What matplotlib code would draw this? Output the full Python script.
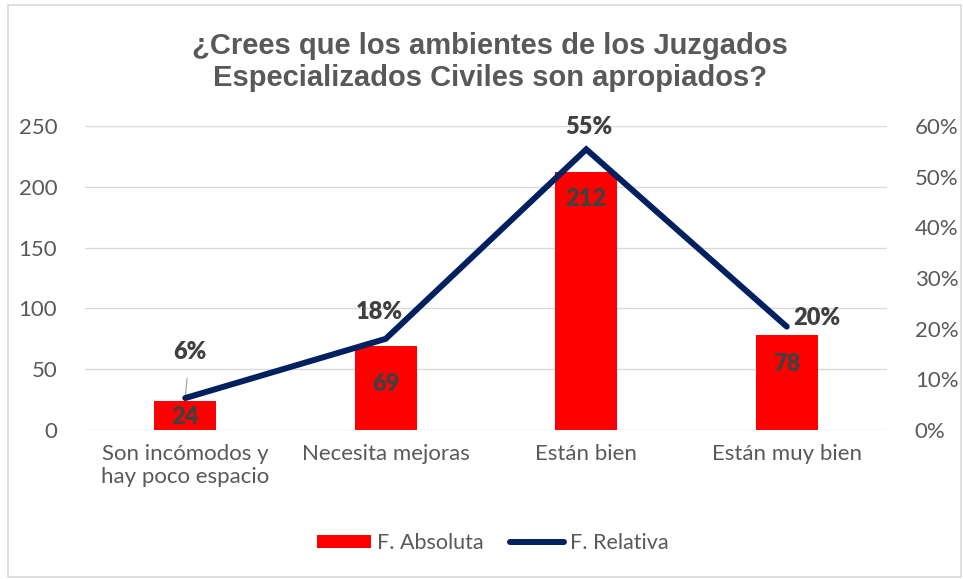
import matplotlib.pyplot as plt
from matplotlib.patches import Rectangle
from matplotlib.ticker import FuncFormatter, MultipleLocator

# data
categories = ['Son incómodos y\nhay poco espacio', 'Necesita mejoras', 'Están bien', 'Están muy bien']
absoluta = [24, 69, 212, 78]
relativa = [0.063, 0.180, 0.554, 0.204]

title = '¿Crees que los ambientes de los Juzgados\nEspecializados Civiles son apropiados?'

# label offsets in points (style, not data)
bar_label_drop = [12, 27, 19, 21]
line_label_offsets = [(3, 33), (-5, 19), (2, 16), (22, 6.5)]

grey_txt = '#595959'
dark_txt = '#404040'
navy = '#002060'

fig = plt.figure(figsize=(9.63, 5.79), dpi=100)
fig.patches.append(Rectangle((8 / 963, 2 / 579), 953 / 963, 572 / 579,
                             transform=fig.transFigure, fill=False,
                             edgecolor='#D9D9D9', lw=1.2))

ax1 = fig.add_axes([85 / 963, 1 - 430 / 579, 802 / 963, 304 / 579])
ax2 = ax1.twinx()

x = list(range(len(categories)))
bars = ax1.bar(x, absoluta, width=0.31, color='#FF0000', zorder=2, label='F. Absoluta')
ax1.set_xlim(-0.5, len(categories) - 0.5)
ax1.set_ylim(0, 250)
ax1.yaxis.set_major_locator(MultipleLocator(50))
ax1.grid(axis='y', color='#D9D9D9', lw=1, zorder=0)
ax1.set_axisbelow(True)
ax1.set_xticks(x)
ax1.set_xticklabels(categories, fontsize=16, family='Lato', color=grey_txt, linespacing=1.2)

for i, v in enumerate(absoluta):
    ax1.annotate(str(v), (i, v), xytext=(0, -bar_label_drop[i]), textcoords='offset points',
                 ha='center', va='center', fontsize=17, fontweight='heavy',
                 family='Lato', color=dark_txt, zorder=3)

line, = ax2.plot(x, relativa, color=navy, lw=4.3, solid_capstyle='round',
                 solid_joinstyle='miter', zorder=4, label='F. Relativa')
ax2.set_ylim(0, 0.6)
ax2.yaxis.set_major_locator(MultipleLocator(0.1))
ax2.yaxis.set_major_formatter(FuncFormatter(lambda v, p: f'{v * 100:.0f}%'))

for i, v in enumerate(relativa):
    dx, dy = line_label_offsets[i]
    props = None
    if i == 0:
        props = dict(arrowstyle='-', color='#A6A6A6', lw=0.9, shrinkA=9, shrinkB=1)
    ax2.annotate(f'{v * 100:.0f}%', (i, v), xytext=(dx, dy), textcoords='offset points',
                 ha='center', va='center', fontsize=17, fontweight='heavy',
                 family='Lato', color=dark_txt, arrowprops=props)

for ax in (ax1, ax2):
    for s in ax.spines.values():
        s.set_visible(False)
    ax.tick_params(length=0, labelsize=16, labelcolor=grey_txt)
    for t in ax.get_yticklabels():
        t.set_family('Lato')
ax1.tick_params(axis='y', pad=20)
ax2.tick_params(axis='y', pad=20)
ax1.tick_params(axis='x', pad=10)

fig.text(490 / 963, 1 - 62 / 579, title, ha='center', va='center', fontsize=21,
         fontweight='bold', family='Liberation Sans', color=grey_txt, linespacing=1.2)

fig.legend([bars, line], ['F. Absoluta', 'F. Relativa'], loc='center',
           bbox_to_anchor=(493 / 963, 1 - 543 / 579), ncol=2, frameon=False,
           prop={'family': 'Lato', 'size': 15.5}, labelcolor=grey_txt,
           handlelength=2.5, handleheight=0.6, columnspacing=1.2, handletextpad=0.3)

fig.savefig('out.png', dpi=100)
